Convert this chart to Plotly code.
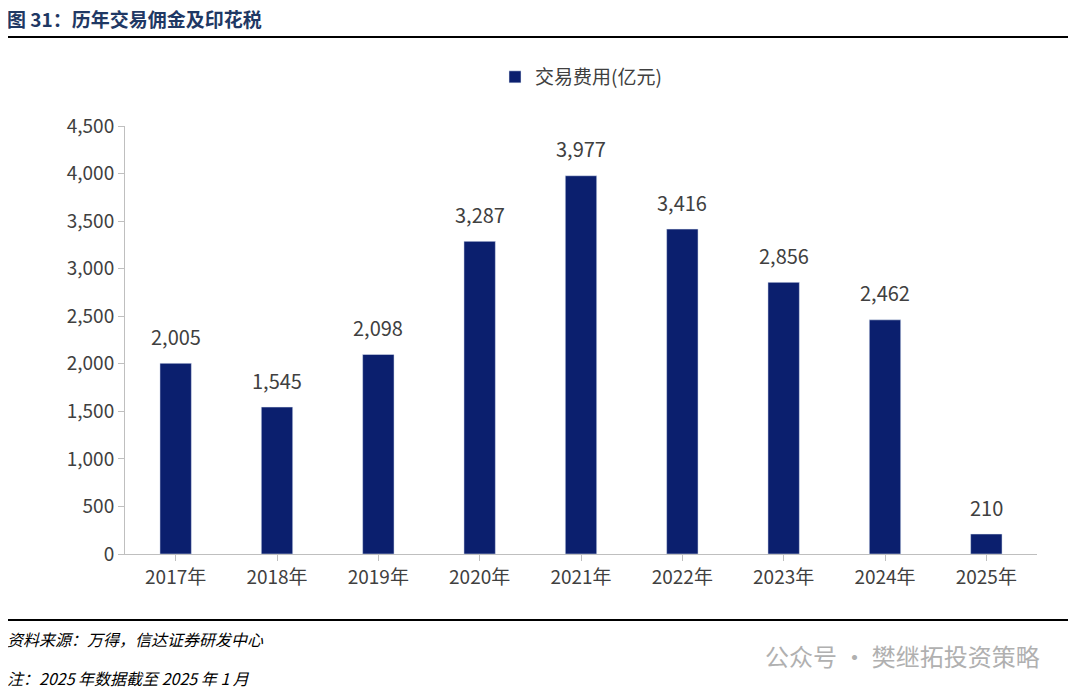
import plotly.graph_objects as go

categories = ["2017年","2018年","2019年","2020年","2021年","2022年","2023年","2024年","2025年"]
values = [2005,1545,2098,3287,3977,3416,2856,2462,210]
labels = [f"{v:,}" for v in values]
series_name = "交易费用(亿元)"

F = "Noto Sans CJK SC"
W, H = 912, 428  # plot area px
fig = go.Figure(go.Bar(x=categories, y=values, name=series_name, marker_color="#0b1f6e",
    width=0.31))
for c, v, t in zip(categories, values, labels):
    fig.add_annotation(x=c, y=v, text=t, yshift=27, showarrow=False,
        font=dict(size=20, color="#404040", family=F))
fig.update_layout(
    width=1076, height=697, plot_bgcolor="white", paper_bgcolor="white",
    margin=dict(l=117, r=47, t=118, b=151),
    font=dict(family=F, color="#404040"),
    showlegend=True,
    legend=dict(orientation="h", x=0.5, xanchor="center", y=1+49/H, yanchor="middle",
                font=dict(size=19, color="#404040")),
    xaxis=dict(showline=True, linecolor="#bfbfbf", ticks="outside", tickcolor="#bfbfbf", ticklen=6,
               tickfont=dict(size=19, color="#404040"), showgrid=False),
    yaxis=dict(range=[0,4500], dtick=500, tickformat=",", showline=True, linecolor="#bfbfbf",
               ticks="outside", tickcolor="#bfbfbf", ticklen=6, showgrid=False,
               tickfont=dict(size=19, color="#404040")),
)
x0 = -120/W
fig.add_annotation(text="<b>图 31：历年交易佣金及印花税</b>", xref="paper", yref="paper",
    x=x0, y=1+(126-18)/H, xanchor="left", yanchor="middle", showarrow=False,
    font=dict(size=19, color="#1f3864", family=F))
for yy in [1+(126-37)/H, -(620-554)/H]:
    fig.add_shape(type="line", xref="paper", yref="paper", x0=x0, x1=1+35/W, y0=yy, y1=yy,
        line=dict(color="black", width=2))
fig.add_annotation(text="<i>资料来源：万得，信达证券研发中心</i>", xref="paper", yref="paper",
    x=x0, y=-(639-554)/H, xanchor="left", yanchor="middle", showarrow=False,
    font=dict(size=16, color="black", family=F))
fig.add_annotation(text="<i>注：2025 年数据截至 2025 年 1 月</i>", xref="paper", yref="paper",
    x=x0, y=-(678-554)/H, xanchor="left", yanchor="middle", showarrow=False,
    font=dict(size=16, color="black", family=F))
fig.add_annotation(text="公众号 · 樊继拓投资策略", xref="paper", yref="paper",
    x=1+5/W, y=-(655-554)/H, xanchor="right", yanchor="middle", showarrow=False,
    font=dict(size=24, color="#b0b0b0", family=F))
fig.write_html("out.html")
